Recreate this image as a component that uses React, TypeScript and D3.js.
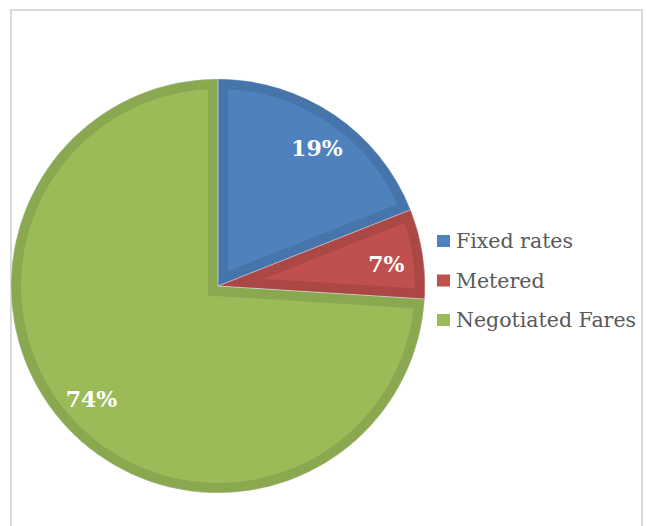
import React from "react";
import * as d3 from "d3";

const categories = ["Fixed rates", "Metered", "Negotiated Fares"];
const values = [19, 7, 74];
const labels = ["19%", "7%", "74%"];
const fills = ["#4f81bd", "#c0504d", "#9bbb59"];
const bands = ["#4774aa", "#ab4744", "#8aa850"];

export default function App() {
  const W = 647, H = 526;
  const cx = 218, cy = 286, R = 207;
  const pie = d3.pie<number>().sort(null).value((d) => d)(values);
  const arc = d3.arc<d3.PieArcDatum<number>>().innerRadius(0).outerRadius(R);
  const labelArc = d3.arc<any>().innerRadius(R * 0.82).outerRadius(R * 0.82);
  const shift = 0.025;
  const legendBase = [248, 287.5, 327];
  return (
    <svg width={W} height={H} style={{ position: "absolute", left: 0, top: 0, background: "#fff" }}>
      <rect x={11} y={10} width={631} height={H} fill="#fff" stroke="#d9d9d9" strokeWidth={2} />
      <defs>
        {pie.map((p, i) => (
          <clipPath id={`clip${i}`} key={i}>
            <path d={arc(p) || ""} />
          </clipPath>
        ))}
      </defs>
      <g transform={`translate(${cx},${cy})`}>
        {pie.map((p, i) => (
          <path
            key={i}
            d={arc(p) || ""}
            fill={fills[i]}
            stroke={bands[i]}
            strokeWidth={20}
            strokeLinejoin="miter"
            clipPath={`url(#clip${i})`}
          />
        ))}
        {pie.map((p, i) => (
          <path key={`s${i}`} d={arc(p) || ""} fill="none" stroke="#dfe6ef" strokeWidth={0.6} strokeOpacity={0.6} />
        ))}
        {pie.map((p, i) => {
          const [x, y] = labelArc.centroid({ startAngle: p.startAngle + shift, endAngle: p.endAngle + shift });
          return (
            <text
              key={`l${i}`}
              x={x}
              y={y + 8}
              textAnchor="middle"
              fill="#fff"
              fontFamily="DejaVu Serif"
              fontWeight="bold"
              fontSize={22}
            >
              {labels[i]}
            </text>
          );
        })}
      </g>
      {categories.map((c, i) => (
        <g key={c}>
          <rect x={437} y={legendBase[i] - 13} width={13} height={12} fill={fills[i]} />
          <text
            x={456}
            y={legendBase[i]}
            fill="#595959"
            fontFamily="DejaVu Serif"
            fontSize={20.5}
          >
            {c}
          </text>
        </g>
      ))}
    </svg>
  );
}
